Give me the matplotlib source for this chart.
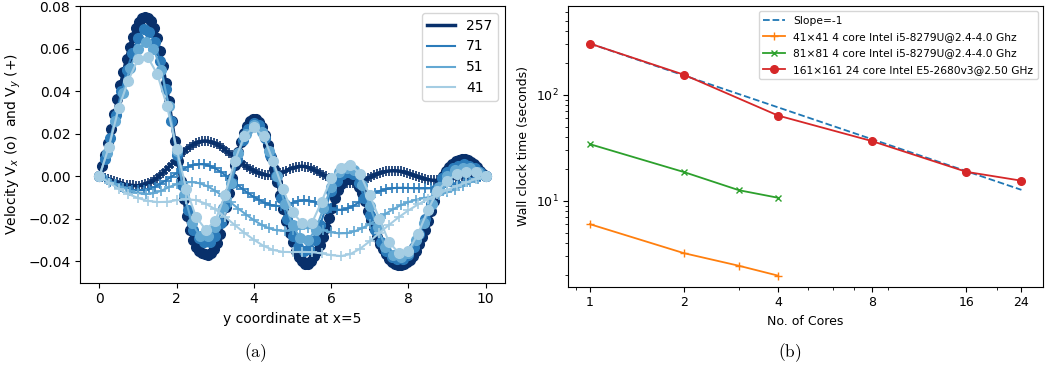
import numpy as np
import matplotlib
matplotlib.use('Agg')
import matplotlib.pyplot as plt
from matplotlib.lines import Line2D
from matplotlib.ticker import NullFormatter, FixedLocator

# ---------------- panel (a) data ----------------
resolutions = ['257', '71', '51', '41']
colors = ['#08306b', '#2b7bba', '#63a8d3', '#a5cde3']

# finest grid (read on every second node of the 257 grid)
vx_257 = [0.000, 0.0047, 0.0100, 0.0158, 0.0221, 0.0292, 0.0362, 0.0428, 0.0490, 0.0552,
          0.0607, 0.0656, 0.0695, 0.0724, 0.0744, 0.0750, 0.0745, 0.0728, 0.0696, 0.0650,
          0.0590, 0.0519, 0.0439, 0.0353, 0.0260, 0.0166, 0.0073, -0.0020, -0.0107, -0.0186,
          -0.0251, -0.0299, -0.0330, -0.0350, -0.0361, -0.0367, -0.0370, -0.0361, -0.0340, -0.0311,
          -0.0270, -0.0208, -0.0145, -0.0077, -0.0010, 0.0053, 0.0115, 0.0163, 0.0205, 0.0238,
          0.0261, 0.0269, 0.0269, 0.0255, 0.0231, 0.0192, 0.0145, 0.0093, 0.0035, -0.0027,
          -0.0090, -0.0153, -0.0211, -0.0264, -0.0310, -0.0349, -0.0377, -0.0397, -0.0410, -0.0410,
          -0.0396, -0.0375, -0.0352, -0.0322, -0.0287, -0.0245, -0.0198, -0.0150, -0.0104, -0.0064,
          -0.0035, -0.0014, 0.0000, 0.0004, -0.0004, -0.0022, -0.0048, -0.0079, -0.0118, -0.0162,
          -0.0206, -0.0245, -0.0284, -0.0316, -0.0343, -0.0367, -0.0390, -0.0402, -0.0411, -0.0415,
          -0.0415, -0.0410, -0.0403, -0.0391, -0.0373, -0.0349, -0.0318, -0.0286, -0.0251, -0.0211,
          -0.0164, -0.0117, -0.0070, -0.0029, 0.0002, 0.0025, 0.0043, 0.0058, 0.0070, 0.0078,
          0.0080, 0.0079, 0.0076, 0.0069, 0.0057, 0.0042, 0.0026, 0.0012, 0.0000]
vy_257 = [0.0000, -0.0005, -0.0009, -0.0014, -0.0019, -0.0023, -0.0028, -0.0032, -0.0036, -0.0039,
          -0.0041, -0.0043, -0.0044, -0.0044, -0.0042, -0.0038, -0.0033, -0.0026, -0.0017, -0.0007,
          0.0004, 0.0017, 0.0031, 0.0045, 0.0059, 0.0074, 0.0089, 0.0103, 0.0116, 0.0128,
          0.0139, 0.0148, 0.0156, 0.0161, 0.0165, 0.0166, 0.0165, 0.0161, 0.0156, 0.0150,
          0.0141, 0.0132, 0.0121, 0.0110, 0.0100, 0.0089, 0.0077, 0.0065, 0.0054, 0.0045,
          0.0036, 0.0028, 0.0021, 0.0015, 0.0010, 0.0006, 0.0004, 0.0004, 0.0006, 0.0009,
          0.0014, 0.0020, 0.0027, 0.0033, 0.0038, 0.0043, 0.0046, 0.0047, 0.0046, 0.0043,
          0.0037, 0.0031, 0.0023, 0.0016, 0.0008, 0.0000, -0.0007, -0.0014, -0.0020, -0.0025,
          -0.0029, -0.0032, -0.0033, -0.0033, -0.0032, -0.0029, -0.0026, -0.0021, -0.0015, -0.0009,
          -0.0003, 0.0004, 0.0010, 0.0015, 0.0019, 0.0023, 0.0025, 0.0026, 0.0026, 0.0025,
          0.0023, 0.0020, 0.0016, 0.0011, 0.0005, 0.0000, -0.0005, -0.0009, -0.0013, -0.0016,
          -0.0018, -0.0019, -0.0019, -0.0019, -0.0018, -0.0016, -0.0014, -0.0012, -0.0009, -0.0007,
          -0.0005, -0.0003, -0.0001, 0.0000, 0.0001, 0.0001, 0.0001, 0.0000, 0.0000]

vx_71 = [0.000, 0.008, 0.018, 0.029, 0.040, 0.050, 0.058, 0.065, 0.069, 0.068,
         0.063, 0.054, 0.041, 0.026, 0.010, -0.004, -0.016, -0.025, -0.029, -0.031,
         -0.031, -0.028, -0.022, -0.013, -0.003, 0.008, 0.017, 0.022, 0.025, 0.024,
         0.018, 0.010, 0.000, -0.010, -0.020, -0.028, -0.033, -0.035, -0.034, -0.030,
         -0.023, -0.015, -0.007, -0.002, 0.001, 0.002, 0.001, -0.003, -0.010, -0.018,
         -0.025, -0.031, -0.035, -0.038, -0.039, -0.039, -0.037, -0.033, -0.027, -0.020,
         -0.013, -0.006, -0.001, 0.002, 0.004, 0.005, 0.006, 0.005, 0.004, 0.002,
         0.000]
vy_71 = [0.0000, -0.0012, -0.0025, -0.0037, -0.0048, -0.0057, -0.0063, -0.0066, -0.0065, -0.0060,
         -0.0050, -0.0036, -0.0020, -0.0003, 0.0015, 0.0031, 0.0044, 0.0053, 0.0057, 0.0056,
         0.0049, 0.0037, 0.0021, 0.0002, -0.0019, -0.0040, -0.0061, -0.0080, -0.0097, -0.0112,
         -0.0125, -0.0134, -0.0139, -0.0139, -0.0133, -0.0124, -0.0116, -0.0113, -0.0114, -0.0120,
         -0.0130, -0.0141, -0.0151, -0.0157, -0.0157, -0.0151, -0.0139, -0.0123, -0.0106, -0.0090,
         -0.0077, -0.0067, -0.0060, -0.0056, -0.0054, -0.0054, -0.0055, -0.0056, -0.0057, -0.0057,
         -0.0056, -0.0054, -0.0051, -0.0046, -0.0040, -0.0033, -0.0025, -0.0017, -0.0010, -0.0004,
         0.0000]

vx_51 = [0.000, 0.011, 0.026, 0.039, 0.051, 0.060, 0.063, 0.060, 0.050, 0.033,
         0.012, -0.009, -0.022, -0.028, -0.028, -0.024, -0.015, -0.003, 0.011, 0.020,
         0.024, 0.021, 0.012, 0.000, -0.013, -0.023, -0.029, -0.030, -0.025, -0.015,
         -0.005, 0.002, 0.004, 0.003, -0.004, -0.014, -0.024, -0.033, -0.037, -0.038,
         -0.036, -0.030, -0.022, -0.013, -0.005, 0.000, 0.003, 0.004, 0.004, 0.002,
         0.000]
vy_51 = [0.0000, -0.0018, -0.0036, -0.0053, -0.0068, -0.0079, -0.0084, -0.0080, -0.0068, -0.0051,
         -0.0037, -0.0029, -0.0027, -0.0033, -0.0047, -0.0068, -0.0094, -0.0123, -0.0152, -0.0180,
         -0.0206, -0.0228, -0.0245, -0.0254, -0.0256, -0.0252, -0.0246, -0.0243, -0.0246, -0.0254,
         -0.0263, -0.0268, -0.0267, -0.0259, -0.0244, -0.0224, -0.0201, -0.0177, -0.0155, -0.0136,
         -0.0121, -0.0110, -0.0102, -0.0095, -0.0087, -0.0076, -0.0062, -0.0046, -0.0029, -0.0013,
         0.0000]

vx_41 = [0.000, 0.014, 0.032, 0.045, 0.055, 0.056, 0.048, 0.033, 0.013, -0.006,
         -0.019, -0.025, -0.021, -0.009, 0.007, 0.019, 0.023, 0.019, 0.007, -0.006,
         -0.017, -0.022, -0.022, -0.012, -0.001, 0.004, 0.0055, 0.001, -0.009, -0.020,
         -0.031, -0.036, -0.035, -0.027, -0.016, -0.007, -0.002, 0.001, 0.002, 0.002,
         0.000]
vy_41 = [0.0000, -0.0030, -0.0058, -0.0083, -0.0102, -0.0115, -0.0121, -0.0120, -0.0112, -0.0107,
         -0.0112, -0.0128, -0.0155, -0.0190, -0.0228, -0.0265, -0.0298, -0.0327, -0.0346, -0.0355,
         -0.0356, -0.0355, -0.0356, -0.0362, -0.0370, -0.0375, -0.0365, -0.0340, -0.0305, -0.0265,
         -0.0228, -0.0192, -0.0160, -0.0132, -0.0107, -0.0085, -0.0064, -0.0045, -0.0028, -0.0012,
         0.0000]

vx_series = [vx_257, vx_71, vx_51, vx_41]
vy_series = [vy_257, vy_71, vy_51, vy_41]
line_widths = [2.5, 1.5, 1.5, 1.5]

# ---------------- panel (b) data ----------------
cores_41 = [1, 2, 3, 4]
time_41 = [6.03, 3.21, 2.44, 1.97]
cores_81 = [1, 2, 3, 4]
time_81 = [34.3, 18.7, 12.6, 10.7]
cores_161 = [1, 2, 4, 8, 16, 24]
time_161 = [305, 155, 63.8, 36.6, 18.8, 15.5]
core_ticks = [1, 2, 4, 8, 16, 24]
labels_b = ['Slope=-1',
            '41\u00d741 4 core Intel i5-8279U@2.4-4.0 Ghz',
            '81\u00d781 4 core Intel i5-8279U@2.4-4.0 Ghz',
            '161\u00d7161 24 core Intel E5-2680v3@2.50 GHz']

fig = plt.figure(figsize=(10.53, 3.75), dpi=100)

# ---------------- panel (a) ----------------
ax1 = fig.add_axes([0.076, 0.246, 0.4036, 0.738])
for vx, vy, c, lw in zip(vx_series, vy_series, colors, line_widths):
    ax1.plot(np.linspace(0, 10, len(vx)), vx, '-o', color=c, ms=7, lw=lw)
    ax1.plot(np.linspace(0, 10, len(vy)), vy, '-+', color=c, ms=7, lw=lw, mew=1.2)
ax1.set_ylim(-0.05, 0.08)
ax1.set_xlim(-0.5, 10.5)
ax1.set_yticks([-0.04, -0.02, 0.0, 0.02, 0.04, 0.06, 0.08])
ax1.set_xticks([0, 2, 4, 6, 8, 10])
ax1.tick_params(labelsize=10)
ax1.set_xlabel('y coordinate at x=5', fontsize=10)
ax1.set_ylabel('Velocity V$_x$ (o)  and V$_y$ (+)', fontsize=10)
handles = [Line2D([], [], color=c, lw=lw) for c, lw in zip(colors, line_widths)]
ax1.legend(handles, resolutions, loc='upper right', fontsize=10)

# ---------------- panel (b) ----------------
ax2 = fig.add_axes([0.5397, 0.2355, 0.4508, 0.7485])
slope_ref = [time_161[0] / n for n in cores_161]
ax2.plot(cores_161, slope_ref, '--', color='tab:blue', lw=1.3, label=labels_b[0])
ax2.plot(cores_41, time_41, '-+', color='tab:orange', lw=1.3, ms=6, label=labels_b[1])
ax2.plot(cores_81, time_81, '-x', color='tab:green', lw=1.3, ms=5, label=labels_b[2])
ax2.plot(cores_161, time_161, '-o', color='tab:red', lw=1.3, ms=5.5, label=labels_b[3])
ax2.set_xscale('log')
ax2.set_yscale('log')
ax2.set_ylim(1.55, 690)
ax2.xaxis.set_major_locator(FixedLocator(core_ticks))
ax2.set_xticklabels([str(c) for c in core_ticks])
ax2.xaxis.set_minor_formatter(NullFormatter())
ax2.tick_params(labelsize=9)
ax2.set_xlabel('No. of Cores', fontsize=9)
ax2.set_ylabel('Wall clock time (seconds)', fontsize=9)
ax2.legend(loc='upper right', fontsize=7.7, labelspacing=0.6)

# captions
fig.text(0.242, 0.059, r'$\mathrm{(a)}$', fontsize=12.5, ha='center', va='center',
         math_fontfamily='cm')
fig.text(0.750, 0.059, r'$\mathrm{(b)}$', fontsize=12.5, ha='center', va='center',
         math_fontfamily='cm')

fig.savefig('out.png', dpi=100)
